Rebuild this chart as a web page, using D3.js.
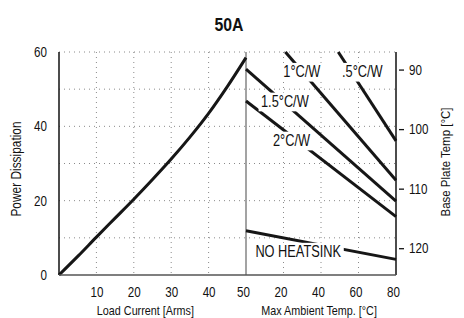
<!DOCTYPE html>
<meta charset="utf-8">
<style>
body { margin: 0; background: #fff; }
text { font-family: "Liberation Sans", Arial, sans-serif; fill: #111; }
.grid line { stroke: #8a8a8a; stroke-width: 1; stroke-dasharray: 1,4; }
.mark { fill: none; stroke: #161616; stroke-width: 3; }
</style>
<body>
<script src="https://d3js.org/d3.v7.min.js"></script>
<script>

// power dissipation curve (left half)
var current = [0, 5, 10, 15, 20, 25, 30, 35, 40, 45, 50];
var power = [0, 5, 10.2, 15.3, 20.4, 25.7, 31.2, 37.1, 43.5, 50.7, 58.5];

// derating lines (right half): start and end as [ambient, power]
var sinkNames = ["1°C/W", ".5°C/W", "1.5°C/W", "2°C/W", "NO HEATSINK"];
var sinkAmbStart = [21, 49.2, 0, 0, 0];
var sinkPowStart = [60, 60, 55.4, 46.8, 11.9];
var sinkAmbEnd = [80, 80, 80, 80, 80];
var sinkPowEnd = [25.5, 36.1, 19.9, 15.7, 4.2];
// where each label sits, in ambient / power units
var labelAmb = [19.9, 51.2, 8, 14.4, 5];
var labelPow = [53.2, 53.2, 45.2, 34.7, 4.8];

var powerTicks = [0, 20, 40, 60];
var powerGrid = [10, 20, 30, 40, 50, 60];
var currentTicks = [10, 20, 30, 40, 50];
var ambientTicks = [20, 40, 60, 80];
var plateTicks = [90, 100, 110, 120];

var margin = {top: 52, right: 68, bottom: 43, left: 59},
    width = 464 - margin.left - margin.right,
    height = 318 - margin.top - margin.bottom,
    split = 187,
    k = 0.83; // horizontal squeeze, the original type is a condensed face

var x = d3.scaleLinear().domain([0, 50]).range([0, split]);
var xa = d3.scaleLinear().domain([0, 80]).range([split, width]);
var y = d3.scaleLinear().domain([0, 60]).range([height, 0]);
var yr = d3.scaleLinear().domain([124.5, 87.05]).range([height, 0]);

var svg = d3.select("body").append("svg")
    .attr("width", 464)
    .attr("height", 318);

// condensed text helper
function label(parent, tx, ty, rot, size, txt, anchor, kk) {
    return parent.append("text")
        .attr("transform", "translate(" + tx + "," + ty + ")" +
            (rot ? " rotate(" + rot + ")" : "") + " scale(" + (kk || k) + ",1)")
        .attr("text-anchor", anchor || "middle")
        .style("font-size", size + "px")
        .text(txt);
}

label(svg, 229, 31, 0, 18, "50A", "middle", 0.88).style("font-weight", "bold");

var g = svg.append("g")
    .attr("transform", "translate(" + margin.left + "," + margin.top + ")");

// dotted grid
var grid = g.append("g").attr("class", "grid");
grid.selectAll(".h").data(powerGrid).enter().append("line")
    .attr("x1", 0).attr("x2", width)
    .attr("y1", function(d) { return y(d); })
    .attr("y2", function(d) { return y(d); });
grid.selectAll(".vc").data(currentTicks.slice(0, 4)).enter().append("line")
    .attr("x1", function(d) { return x(d); })
    .attr("x2", function(d) { return x(d); })
    .attr("y1", 0).attr("y2", height);
grid.selectAll(".va").data(ambientTicks.slice(0, 3)).enter().append("line")
    .attr("x1", function(d) { return xa(d); })
    .attr("x2", function(d) { return xa(d); })
    .attr("y1", 0).attr("y2", height);

// divider between the two halves
g.append("line")
    .attr("x1", split).attr("x2", split)
    .attr("y1", 0).attr("y2", height)
    .style("stroke", "#8c8c8c").style("stroke-width", 1.6);

// power curve
var line = d3.line()
    .x(function(d, i) { return x(current[i]); })
    .y(function(d) { return y(d); })
    .curve(d3.curveCatmullRom);
g.append("path").attr("class", "mark").attr("d", line(power));

// derating lines
g.selectAll(".sink").data(sinkNames).enter().append("line")
    .attr("class", "mark")
    .attr("x1", function(d, i) { return xa(sinkAmbStart[i]); })
    .attr("y1", function(d, i) { return y(sinkPowStart[i]); })
    .attr("x2", function(d, i) { return xa(sinkAmbEnd[i]); })
    .attr("y2", function(d, i) { return y(sinkPowEnd[i]); });

// labels with white boxes
sinkNames.forEach(function(name, i) {
    var lg = g.append("g")
        .attr("transform", "translate(" + xa(labelAmb[i]) + "," + y(labelPow[i]) + ") scale(0.8,1)");
    var t = lg.append("text")
        .style("font-size", "16px")
        .text(name);
    var b = t.node().getBBox();
    lg.insert("rect", "text")
        .attr("x", b.x - 3).attr("y", b.y)
        .attr("width", b.width + 6).attr("height", b.height + 1)
        .style("fill", "#fff");
});

// axes
var yAxis = g.append("g")
    .call(d3.axisLeft(y).tickValues(powerTicks).tickSize(0).tickPadding(12));
var xAxis = g.append("g")
    .attr("transform", "translate(0," + height + ")")
    .call(d3.axisBottom(x).tickValues(currentTicks).tickSize(0).tickPadding(12));
var aAxis = g.append("g")
    .attr("transform", "translate(0," + height + ")")
    .call(d3.axisBottom(xa).tickValues(ambientTicks).tickSize(0).tickPadding(12));
var rAxis = g.append("g")
    .attr("transform", "translate(" + width + ",0)")
    .call(d3.axisRight(yr).tickValues(plateTicks).tickSize(8).tickPadding(5));

[yAxis, xAxis, aAxis, rAxis].forEach(function(a) {
    a.select(".domain").remove();
    a.selectAll("text")
        .style("font-size", "14px").style("font-family", null)
        .attr("x", function() { return (+d3.select(this).attr("x") || 0) / k; })
        .attr("transform", "scale(" + k + ",1)");
});
xAxis.selectAll("text").filter(function(d) { return d === 50; }).attr("dx", -3 / k);
aAxis.selectAll("text").attr("dx", -3 / k);
rAxis.selectAll("line").attr("x1", 3).style("stroke", "#111").style("stroke-width", 1.3);

// frame lines
g.append("line").attr("x1", 0).attr("x2", 0).attr("y1", 0).attr("y2", height)
    .style("stroke", "#111").style("stroke-width", 1.5);
g.append("line").attr("x1", width).attr("x2", width).attr("y1", 0).attr("y2", height)
    .style("stroke", "#111").style("stroke-width", 1.5);
g.append("line").attr("x1", 0).attr("x2", width).attr("y1", height).attr("y2", height)
    .style("stroke", "#555").style("stroke-width", 1.5);

// axis titles
label(g, x(23.1), height + 40, 0, 13, "Load Current  [Arms]");
label(g, xa(39), height + 40, 0, 13, "Max Ambient Temp. [°C]");
label(svg, 21, 169, -90, 14, "Power Dissipation", "middle", 0.85);
label(svg, 450, 162, -90, 13.5, "Base Plate Temp [°C]", "middle", 0.85);

</script>
</body>
